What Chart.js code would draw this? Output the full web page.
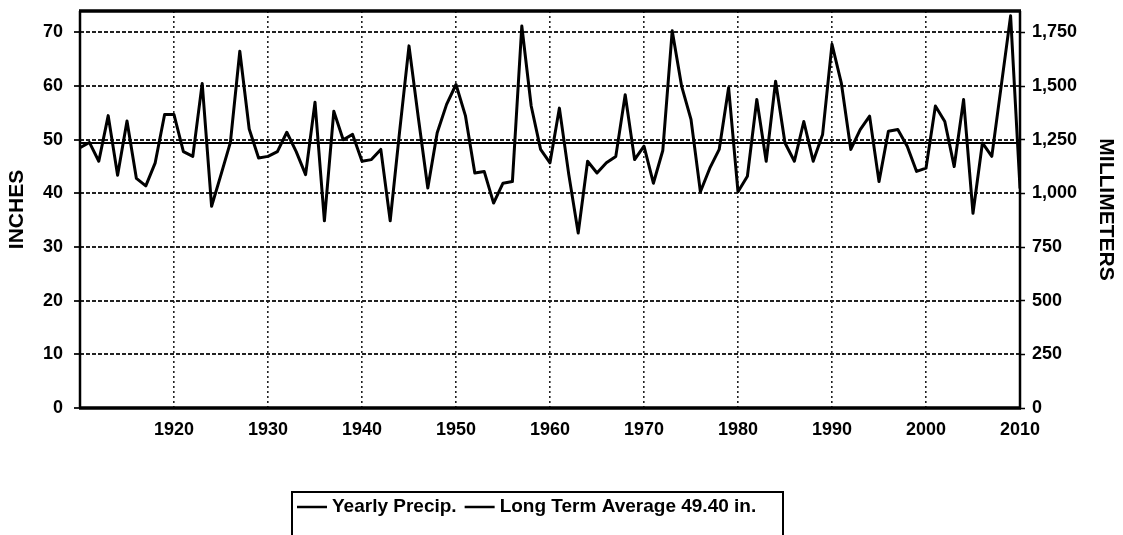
<!DOCTYPE html>
<html>
<head>
<meta charset="utf-8">
<script src="https://cdn.jsdelivr.net/npm/chart.js@4.4.1/dist/chart.umd.min.js"></script>
<style>
  html, body { margin: 0; padding: 0; background: #ffffff; }
  #wrap { width: 1123px; height: 535px; position: relative; }
  canvas { display: block; }
</style>
</head>
<body>
<div id="wrap"><canvas id="chart" width="1123" height="535"></canvas></div>
<script>
// ---- data ----
const years = [
  1910,1911,1912,1913,1914,1915,1916,1917,1918,1919,
  1920,1921,1922,1923,1924,1925,1926,1927,1928,1929,
  1930,1931,1932,1933,1934,1935,1936,1937,1938,1939,
  1940,1941,1942,1943,1944,1945,1946,1947,1948,1949,
  1950,1951,1952,1953,1954,1955,1956,1957,1958,1959,
  1960,1961,1962,1963,1964,1965,1966,1967,1968,1969,
  1970,1971,1972,1973,1974,1975,1976,1977,1978,1979,
  1980,1981,1982,1983,1984,1985,1986,1987,1988,1989,
  1990,1991,1992,1993,1994,1995,1996,1997,1998,1999,
  2000,2001,2002,2003,2004,2005,2006,2007,2008,2009,
  2010
];
const yearlyPrecip = [
  48.5,49.5,46.0,54.5,43.4,53.5,42.8,41.4,45.7,54.7,
  54.7,47.8,46.9,60.5,37.6,43.5,49.5,66.5,52.0,46.6,
  46.9,47.8,51.4,47.8,43.5,57.0,34.9,55.3,50.0,51.0,
  46.0,46.3,48.2,34.9,51.5,67.5,54.0,41.0,51.3,56.6,
  60.3,54.5,43.8,44.1,38.2,41.9,42.2,71.2,56.3,48.2,
  45.7,55.9,43.5,32.6,46.0,43.8,45.7,46.9,58.4,46.3,
  48.8,41.9,48.0,70.3,60.0,53.8,40.3,44.7,48.2,59.7,
  40.3,43.2,57.5,46.0,60.9,49.4,46.0,53.4,46.0,51.0,
  67.8,60.5,48.2,51.9,54.4,42.2,51.6,51.9,48.8,44.1,
  44.7,56.3,53.4,45.0,57.5,36.3,49.4,46.9,60.0,73.1,
  41.0
];
const longTermAverage = 49.40;
const xTickYears = [1920,1930,1940,1950,1960,1970,1980,1990,2000,2010];
const inchTicks = [0,10,20,30,40,50,60,70];
const mmTicks = [0,250,500,750,1000,1250,1500,1750];
const seriesLabels = ['Yearly Precip.', 'Long Term Average ' + longTermAverage.toFixed(2) + ' in.'];
const axisTitles = { left: 'INCHES', right: 'MILLIMETERS' };

// ---- scale settings ----
const X_MIN = years[0], X_MAX = years[years.length - 1];
const IN_MAX = 74;
const MM_PER_IN = 25;

const precipPoints = years.map((y, i) => ({ x: y, y: yearlyPrecip[i] }));
const avgPoints = [{ x: X_MIN, y: longTermAverage }, { x: X_MAX, y: longTermAverage }];

const FONT = '"Liberation Sans", Arial, Helvetica, sans-serif';

const framePlugin = {
  id: 'frame',
  afterDraw(chart) {
    const { ctx, chartArea: a } = chart;
    ctx.save();
    ctx.strokeStyle = '#000';
    ctx.lineWidth = 2.5;
    ctx.beginPath();
    ctx.moveTo(a.left, a.top); ctx.lineTo(a.left, a.bottom);
    ctx.moveTo(a.right, a.top); ctx.lineTo(a.right, a.bottom);
    ctx.stroke();
    ctx.lineWidth = 3.5;
    ctx.beginPath();
    ctx.moveTo(a.left - 1, a.top); ctx.lineTo(a.right + 1, a.top);
    ctx.moveTo(a.left - 1, a.bottom); ctx.lineTo(a.right + 1, a.bottom);
    ctx.stroke();
    ctx.restore();
  }
};

const legendPlugin = {
  id: 'boxLegend',
  afterDraw(chart) {
    const { ctx } = chart;
    const boxX = 292, boxY = 492, boxW = 491, boxH = 50;
    const cy = 507;
    ctx.save();
    ctx.strokeStyle = '#000';
    ctx.lineWidth = 2;
    ctx.strokeRect(boxX, boxY, boxW, boxH);
    ctx.font = 'bold 19px ' + FONT;
    ctx.fillStyle = '#000';
    ctx.textBaseline = 'middle';
    ctx.textAlign = 'left';
    let x = boxX + 5;
    chart.data.datasets.forEach((ds, i) => {
      ctx.lineWidth = 2.5;
      ctx.beginPath();
      ctx.moveTo(x, cy); ctx.lineTo(x + 30, cy);
      ctx.stroke();
      x += 35;
      ctx.fillText(ds.label, x, cy);
      x += ctx.measureText(ds.label).width + 8;
    });
    ctx.restore();
  }
};

const zeroPad = (scale) => {
  scale.paddingTop = 0; scale.paddingBottom = 0;
  scale.paddingLeft = 0; scale.paddingRight = 0;
};

new Chart(document.getElementById('chart'), {
  type: 'line',
  data: {
    datasets: [
      {
        label: seriesLabels[0],
        data: precipPoints,
        borderColor: '#000',
        borderWidth: 3,
        borderJoinStyle: 'round',
        borderCapStyle: 'round',
        pointRadius: 0,
        tension: 0,
        fill: false,
        yAxisID: 'y'
      },
      {
        label: seriesLabels[1],
        data: avgPoints,
        borderColor: '#000',
        borderWidth: 2,
        pointRadius: 0,
        tension: 0,
        fill: false,
        yAxisID: 'y'
      }
    ]
  },
  options: {
    responsive: false,
    animation: false,
    devicePixelRatio: 1,
    layout: { padding: { top: 11, left: 0, right: 0, bottom: 0 } },
    plugins: {
      legend: { display: false },
      tooltip: { enabled: false },
      title: { display: false }
    },
    scales: {
      x: {
        type: 'linear',
        position: 'bottom',
        min: X_MIN,
        max: X_MAX,
        afterBuildTicks: (scale) => {
          scale.ticks = [X_MIN].concat(xTickYears).map(v => ({ value: v }));
        },
        ticks: {
          autoSkip: false,
          maxRotation: 0,
          padding: 11,
          color: '#000',
          font: { family: FONT, size: 18, weight: 'bold' },
          callback: (v) => (xTickYears.includes(v) ? String(v) : '')
        },
        grid: {
          color: '#222',
          lineWidth: 1.6,
          drawTicks: false
        },
        border: { display: false, dash: [2, 3] },
        afterFit: (scale) => { scale.height = 127; zeroPad(scale); }
      },
      y: {
        type: 'linear',
        position: 'left',
        min: 0,
        max: IN_MAX,
        afterBuildTicks: (scale) => {
          scale.ticks = inchTicks.map(v => ({ value: v }));
        },
        ticks: {
          padding: 11,
          color: '#000',
          font: { family: FONT, size: 18, weight: 'bold' }
        },
        grid: {
          color: '#222',
          lineWidth: 2,
          tickLength: 6,
          tickColor: '#222',
          tickWidth: 2
        },
        border: { display: false, dash: [4, 2] },
        title: {
          display: true,
          text: axisTitles.left,
          color: '#000',
          font: { family: FONT, size: 21, weight: 'bold' },
          padding: { top: 5, bottom: 0 }
        },
        afterFit: (scale) => { scale.width = 80; zeroPad(scale); }
      },
      y2: {
        type: 'linear',
        position: 'right',
        min: 0,
        max: IN_MAX * MM_PER_IN,
        afterBuildTicks: (scale) => {
          scale.ticks = mmTicks.map(v => ({ value: v }));
        },
        ticks: {
          padding: 7,
          color: '#000',
          font: { family: FONT, size: 18, weight: 'bold' },
          callback: (v) => v.toLocaleString('en-US')
        },
        grid: {
          drawOnChartArea: false,
          tickLength: 5,
          tickColor: '#000',
          tickWidth: 1.5
        },
        border: { display: false },
        title: {
          display: true,
          text: axisTitles.right,
          color: '#000',
          font: { family: FONT, size: 21, weight: 'bold' },
          padding: { top: 5, bottom: 0 }
        },
        afterFit: (scale) => { scale.width = 103; zeroPad(scale); }
      }
    }
  },
  plugins: [framePlugin, legendPlugin]
});
</script>
</body>
</html>
